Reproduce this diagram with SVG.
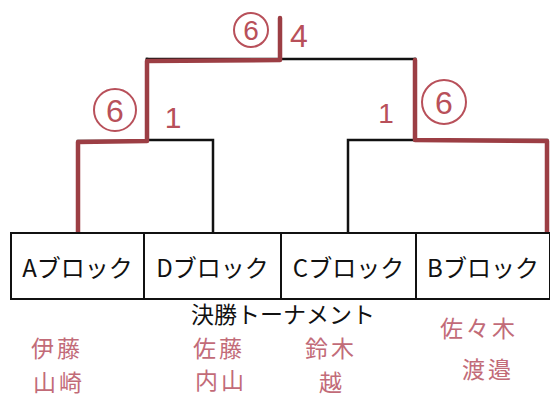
<svg xmlns="http://www.w3.org/2000/svg" width="550" height="398" viewBox="0 0 550 398">
<style>
.box{fill:#fff;stroke:#111;stroke-width:2}
.lbl{font-family:"Noto Sans CJK JP","Liberation Sans",sans-serif;font-size:24px;fill:#111;text-anchor:middle}
.blk{fill:none;stroke:#111;stroke-width:2.5;stroke-linecap:square}
.red{fill:none;stroke:#9c3e44;stroke-width:4.5;stroke-linecap:round;stroke-linejoin:round}
.circ{fill:none;stroke:#b8505a;stroke-width:2}
.score{font-family:"Liberation Sans",sans-serif;fill:#b8505a;text-anchor:middle}
.name{font-family:"Noto Sans CJK JP",sans-serif;fill:#c26b78;font-size:23px;text-anchor:middle;letter-spacing:3px}
</style>
<rect width="550" height="398" fill="#fff"/>
<g id="connectors">
  <polyline class="blk" points="213,233 213,140 147,140"/>
  <polyline class="blk" points="348,233 348,140 415,140"/>
  <line class="blk" x1="147" y1="59" x2="415" y2="59"/>
  <polyline class="blk" points="78,233 78,141 147,141 147,59"/>
  <polyline class="blk" points="415,59 415,140 547,140 547,233"/>
  <polyline class="red" points="78,233 78,142 147,141 147,61 280,60 280,18"/>
  <polyline class="red" points="415,60 415,140 547,141 547,233"/>
</g>
<g id="blockA"><rect class="box" x="11" y="233" width="133" height="66"/><text class="lbl" x="77.5" y="277">Aブロック</text></g>
<g id="blockD"><rect class="box" x="144" y="233" width="137" height="66"/><text class="lbl" x="212.5" y="277">Dブロック</text></g>
<g id="blockC"><rect class="box" x="281" y="233" width="135" height="66"/><text class="lbl" x="348.5" y="277">Cブロック</text></g>
<g id="blockB"><rect class="box" x="416" y="233" width="134" height="66"/><text class="lbl" x="483" y="277">Bブロック</text></g>
<g id="title"><text x="283" y="323" font-family="Noto Sans CJK JP,sans-serif" font-size="23" fill="#111" text-anchor="middle">決勝トーナメント</text></g>
<g id="scores">
  <circle class="circ" cx="251" cy="30" r="17"/><text class="score" x="251" y="40" font-size="28">6</text>
  <text class="score" x="299" y="47" font-size="32">4</text>
  <circle class="circ" cx="115" cy="110" r="21"/><text class="score" x="115" y="122" font-size="32">6</text>
  <text class="score" x="173" y="128" font-size="30">1</text>
  <text class="score" x="386" y="123" font-size="28">1</text>
  <circle class="circ" cx="444" cy="102" r="22"/><text class="score" x="444" y="114" font-size="32">6</text>
</g>
<g id="names">
  <text class="name" x="57" y="357">伊藤</text>
  <text class="name" x="59" y="391">山崎</text>
  <text class="name" x="219" y="357">佐藤</text>
  <text class="name" x="221" y="389">内山</text>
  <text class="name" x="331" y="357">鈴木</text>
  <text class="name" x="332" y="391">越</text>
  <text class="name" x="479" y="337">佐々木</text>
  <text class="name" x="488" y="378">渡邉</text>
</g>
</svg>
